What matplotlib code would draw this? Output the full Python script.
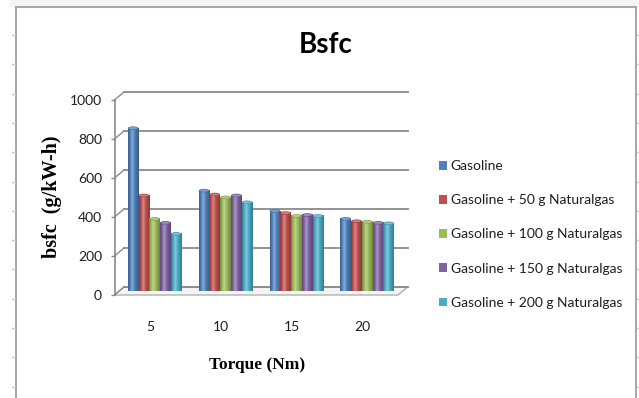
import numpy as np
import matplotlib.pyplot as plt
from matplotlib.patches import Rectangle, Ellipse, Patch, Polygon
from matplotlib.colors import LinearSegmentedColormap, to_rgb
from matplotlib.lines import Line2D

# bsfc (g/kW-h) at each torque step
torque = ["5", "10", "15", "20"]
series = [
    "Gasoline",
    "Gasoline + 50 g Naturalgas",
    "Gasoline + 100 g Naturalgas",
    "Gasoline + 150 g Naturalgas",
    "Gasoline + 200 g Naturalgas",
]
gasoline = [835, 515, 410, 370]
ng50 = [490, 495, 400, 358]
ng100 = [370, 480, 385, 355]
ng150 = [350, 490, 390, 350]
ng200 = [293, 455, 385, 347]
yticks = [0, 200, 400, 600, 800, 1000]
colors = ["#4F81BD", "#C0504D", "#9BBB59", "#8064A2", "#4BACC6"]

W, H = 639, 398
fig = plt.figure(figsize=(W / 100, H / 100), dpi=100)
fig.patch.set_facecolor("white")


def fx(px):
    return px / W


def fy(py):
    return 1 - py / H


# sheet background bits: top strip, chart border, row marks
fig.add_artist(Rectangle((fx(10), fy(7)), 1, 7 / H, transform=fig.transFigure,
                         facecolor="#f3f5f9", edgecolor="none", zorder=-2))
fig.add_artist(Rectangle((fx(15.5), fy(420)), (636 - 15.5) / W, (420 - 7.5) / H,
                         transform=fig.transFigure, facecolor="white",
                         edgecolor="#a8a8a8", lw=1.5, zorder=-1))
for ry in np.arange(35, 398, 29.3):
    fig.add_artist(Line2D([fx(12), fx(15)], [fy(ry), fy(ry)], transform=fig.transFigure,
                          color="#c4cad8", lw=1, zorder=-1))
    fig.add_artist(Line2D([fx(636.5), fx(639)], [fy(ry), fy(ry)], transform=fig.transFigure,
                          color="#c4cad8", lw=1, zorder=-1))

# front plane of the 3-D plot area
left, right, top, bottom = 114.5, 398, 100, 295
ax = fig.add_axes([fx(left), fy(bottom), (right - left) / W, (bottom - top) / H])
ax.set_facecolor("none")
xmin, xmax = -0.5, len(torque) - 0.5
ymin, ymax = 0, 1000

# depth offset (back wall relative to front) in data units
px_x = (xmax - xmin) / (right - left)
px_y = (ymax - ymin) / (bottom - top)
DX, DY = 9.5 * px_x, 8 * px_y

grid_c = "#8a8a8a"
# floor
ax.add_patch(Polygon([(xmin, 0), (xmax, 0), (xmax + DX, DY), (xmin + DX, DY)],
                     closed=True, facecolor="#f4f4f4", edgecolor="#b0b0b0",
                     lw=1.0, clip_on=False, zorder=1))
# back wall gridlines + side wall diagonals
for v in yticks:
    ax.plot([xmin + DX, xmax + DX], [v + DY, v + DY], color=grid_c, lw=1.3,
            clip_on=False, zorder=1)
    ax.plot([xmin, xmin + DX], [v, v + DY], color=grid_c, lw=1.0,
            clip_on=False, zorder=1)
ax.plot([xmin, xmin], [0, 1000], color=grid_c, lw=1.2, clip_on=False, zorder=1)


def shade_cmap(c):
    r, g, b = to_rgb(c)
    base = np.array([r, g, b])
    dark = base * 0.72
    light = base + (1 - base) * 0.35
    return LinearSegmentedColormap.from_list(
        "cyl", [dark, base, light, base, base * 0.85, dark])


values = [gasoline, ng50, ng100, ng150, ng200]
bw = 0.152
grad = np.linspace(0, 1, 64)[None, :]
for i, (vals, c) in enumerate(zip(values, colors)):
    cmap = shade_cmap(c)
    cap = np.array(to_rgb(c)) * 0.85
    for j, v in enumerate(vals):
        xc = j + (i - 2) * bw + DX / 2
        x0 = xc - bw / 2
        y0 = DY / 2
        clip = Rectangle((x0, y0), bw, v, transform=ax.transData)
        im = ax.imshow(grad, extent=(x0, x0 + bw, y0, y0 + v), cmap=cmap,
                       aspect="auto", interpolation="bilinear", zorder=3,
                       clip_on=False)
        im.set_clip_path(clip)
        ax.add_patch(Ellipse((xc, y0 + v), bw * 0.98, 3.5 * px_y,
                             facecolor=cap, edgecolor="none", zorder=4, clip_on=False))
        ax.add_patch(Ellipse((xc, y0 + v), bw * 0.8, 2.2 * px_y,
                             facecolor=cmap(0.45), edgecolor="none", zorder=4, clip_on=False))

ax.set_xlim(xmin, xmax)
ax.set_ylim(ymin, ymax)
ax.set_aspect("auto")

for s in ax.spines.values():
    s.set_visible(False)
ax.set_yticks(yticks)
ax.set_yticklabels([str(t) for t in yticks])
ax.set_xticks(range(len(torque)))
ax.set_xticklabels(torque)
ax.tick_params(axis="y", length=3, width=1, color=grid_c, pad=6, labelsize=10,
               labelcolor="#1e1e1e")
ax.tick_params(axis="x", length=0, pad=19, labelsize=10, labelcolor="#1e1e1e")
for lab in ax.get_xticklabels() + ax.get_yticklabels():
    lab.set_fontfamily("Lato")

fig.text(fx(326), fy(45), "Bsfc", ha="center", va="center", fontsize=20,
         fontweight="bold", family="Lato", color="black")
fig.text(fx(257), fy(365), "Torque (Nm)", ha="center", va="center", fontsize=12.5,
         fontweight="bold", family="Liberation Serif", color="black")
fig.text(fx(52), fy(197), "bsfc  (g/kW-h)", ha="center", va="center", rotation=90,
         fontsize=14.5, fontweight="bold", family="Liberation Serif", color="black")

handles = [Patch(facecolor=c, edgecolor="none") for c in colors]
ax.legend(handles, series, loc="upper left", bbox_to_anchor=(fx(439), fy(160)),
          bbox_transform=fig.transFigure, frameon=False,
          prop={"family": "Lato", "size": 10},
          handlelength=0.6, handleheight=0.6, handletextpad=0.25,
          labelspacing=1.6, borderpad=0, borderaxespad=0, labelcolor="#1e1e1e")

fig.savefig("out.png", dpi=100)
